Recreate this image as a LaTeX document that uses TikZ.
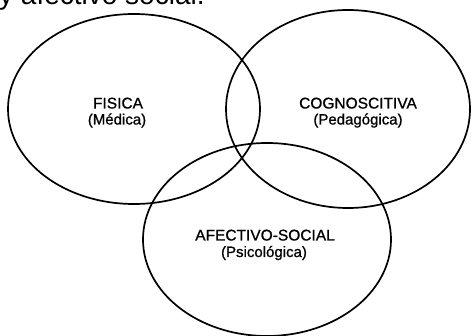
\documentclass[tikz,border=0pt]{standalone}
\usepackage{fontspec}
\usetikzlibrary{shapes.geometric}
\newfontfamily\lblfont{Liberation Sans}[FakeBold=0.9]
\newfontfamily\headfont{Liberation Sans}

\tikzset{
  area/.style={ellipse, draw=black, line width=1.7pt, inner sep=0pt, fill=none},
  title/.style={font=\lblfont\fontsize{15.5}{16}\selectfont, anchor=base, inner sep=0pt},
  sub/.style={font=\lblfont\fontsize{15}{16}\selectfont, anchor=base, inner sep=0pt},
}

\begin{document}
\begin{tikzpicture}[x=1pt, y=-1pt]
  \useasboundingbox[fill=white] (0,0) rectangle (473,336);

  % running text above the diagram
  \node[font=\headfont\fontsize{28}{30}\selectfont, anchor=base west, inner sep=0pt]
    (intro) at (-1,4.5) {y afectivo social.};

  % the three overlapping areas
  \node[area, minimum width=252pt, minimum height=190pt] (fisica) at (134,109) {};
  \node[area, minimum width=244pt, minimum height=198pt] (cogn)   at (348,109) {};
  \node[area, minimum width=248pt, minimum height=193pt] (afect)  at (267,239.5) {};

  % labels
  \node[title] (fisicaT) at (118,108.5) {FISICA};
  \node[sub]   (fisicaS) at (117,124.5) {(Médica)};
  \node[title] (cognT)   at (358,108.5) {COGNOSCITIVA};
  \node[sub]   (cognS)   at (358,124.5) {(Pedagógica)};
  \node[title] (afectT)  at (265,240.5) {AFECTIVO-SOCIAL};
  \node[sub]   (afectS)  at (264,257) {(Psicológica)};
\end{tikzpicture}
\end{document}
